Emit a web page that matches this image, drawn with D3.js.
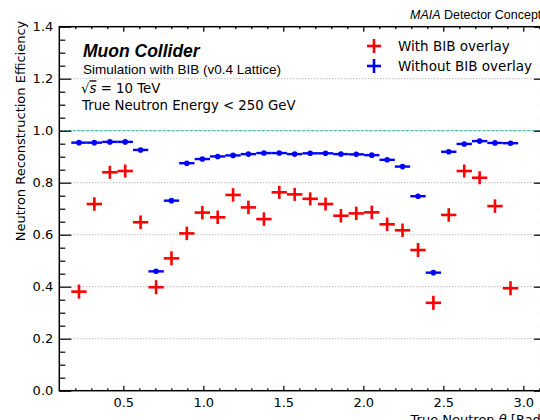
<!DOCTYPE html>
<html>
<head>
<meta charset="utf-8">
<script src="https://cdn.jsdelivr.net/npm/d3@7"></script>
<style>
  html, body { margin: 0; padding: 0; background: #fff; }
  svg { display: block; }
</style>
</head>
<body>
<svg id="chart" width="540" height="420"></svg>
<script>
// ---- data ----
const thetaCenters = [0.223, 0.319, 0.416, 0.512, 0.608, 0.705, 0.801, 0.897, 0.994, 1.090,
  1.186, 1.282, 1.379, 1.475, 1.571, 1.668, 1.764, 1.860, 1.956, 2.053,
  2.149, 2.245, 2.342, 2.438, 2.534, 2.631, 2.727, 2.823, 2.920];
const thetaHalfWidth = 0.048;
const withBIB = [0.381, 0.718, 0.840, 0.845, 0.648, 0.398, 0.509, 0.605, 0.685, 0.667,
  0.753, 0.705, 0.660, 0.763, 0.755, 0.738, 0.718, 0.673, 0.682, 0.686,
  0.640, 0.617, 0.541, 0.338, 0.676, 0.845, 0.819, 0.710, 0.394];
const withBIBErr = [0.027, 0.026, 0.025, 0.025, 0.026, 0.027, 0.027, 0.026, 0.026, 0.026,
  0.026, 0.026, 0.026, 0.025, 0.025, 0.025, 0.025, 0.026, 0.026, 0.026,
  0.026, 0.026, 0.027, 0.027, 0.026, 0.025, 0.025, 0.026, 0.027];
const withoutBIB = [0.954, 0.954, 0.957, 0.957, 0.926, 0.459, 0.731, 0.875, 0.891, 0.901,
  0.905, 0.910, 0.914, 0.914, 0.910, 0.913, 0.913, 0.910, 0.909, 0.906,
  0.888, 0.862, 0.748, 0.454, 0.919, 0.949, 0.960, 0.953, 0.952];
const withoutBIBErr = 0.006;
const yTicks = [0.0, 0.2, 0.4, 0.6, 0.8, 1.0, 1.2, 1.4];
const xTicks = [0.5, 1.0, 1.5, 2.0, 2.5, 3.0];
const gridValues = [0.2, 0.4, 0.6, 0.8, 1.0, 1.2];
const legendLabels = ["With BIB overlay", "Without BIB overlay"];

(function () {
// ---- layout ----
const svg = d3.select("#chart");
const pLeft = 59.3, pTop = 26.7, pBottom = 390.7;
const pxPerRad = 160;
const x = d3.scaleLinear().domain([0.1, Math.PI]).range([pLeft, pLeft + pxPerRad * (Math.PI - 0.1)]);
const y = d3.scaleLinear().domain([0, 1.4]).range([pBottom, pTop]);
const pRight = x.range()[1];
const RED = "#ff0000", BLUE = "#0000ff";
const tickFont = "'DejaVu Sans', sans-serif";

// grid lines
svg.append("g").selectAll("line").data(gridValues).join("line")
  .attr("x1", pLeft).attr("x2", pRight)
  .attr("y1", d => y(d)).attr("y2", d => y(d))
  .attr("stroke", "#a0a0a0").attr("stroke-width", 1).attr("stroke-dasharray", "1,2");
// reference line at 1.0
svg.append("line")
  .attr("x1", pLeft).attr("x2", pRight).attr("y1", y(1.0)).attr("y2", y(1.0))
  .attr("stroke", "#5cbcbc").attr("stroke-width", 1.2).attr("stroke-dasharray", "3,1.5");

// axes
const xMinor = d3.range(2, 32).map(i => i / 10).filter(v => !xTicks.some(t => Math.abs(t - v) < 1e-6));
const yMinor = d3.range(1, 28).map(i => i / 20).filter(v => !yTicks.some(t => Math.abs(t - v) < 1e-6));

const gxB = svg.append("g").attr("transform", `translate(0,${pBottom})`)
  .call(d3.axisBottom(x).tickValues(xTicks).tickFormat(d3.format(".1f")).tickSizeInner(-5).tickSizeOuter(0).tickPadding(7));
const gxBm = svg.append("g").attr("transform", `translate(0,${pBottom})`)
  .call(d3.axisBottom(x).tickValues(xMinor).tickFormat("").tickSizeInner(-2.5).tickSizeOuter(0));
const gxT = svg.append("g").attr("transform", `translate(0,${pTop})`)
  .call(d3.axisTop(x).tickValues(xTicks).tickFormat("").tickSizeInner(-5).tickSizeOuter(0));
const gxTm = svg.append("g").attr("transform", `translate(0,${pTop})`)
  .call(d3.axisTop(x).tickValues(xMinor).tickFormat("").tickSizeInner(-2.5).tickSizeOuter(0));
const gyL = svg.append("g").attr("transform", `translate(${pLeft},0)`)
  .call(d3.axisLeft(y).tickValues(yTicks).tickFormat(d3.format(".1f")).tickSizeInner(-12).tickSizeOuter(0).tickPadding(6));
const gyLm = svg.append("g").attr("transform", `translate(${pLeft},0)`)
  .call(d3.axisLeft(y).tickValues(yMinor).tickFormat("").tickSizeInner(-6).tickSizeOuter(0));
const gyR = svg.append("g").attr("transform", `translate(${pRight},0)`)
  .call(d3.axisRight(y).tickValues(yTicks).tickFormat("").tickSizeInner(-12).tickSizeOuter(0));
const gyRm = svg.append("g").attr("transform", `translate(${pRight},0)`)
  .call(d3.axisRight(y).tickValues(yMinor).tickFormat("").tickSizeInner(-6).tickSizeOuter(0));
[gxB, gxBm, gxT, gxTm, gyL, gyLm, gyR, gyRm].forEach(g => {
  g.select(".domain").remove();
  g.selectAll(".tick line").attr("stroke", "#000").attr("stroke-width", 1.2);
  g.selectAll(".tick text").attr("font-family", tickFont).attr("font-size", 13).attr("fill", "#000");
});
// spines
svg.append("rect").attr("x", pLeft).attr("y", pTop).attr("width", pRight - pLeft).attr("height", pBottom - pTop)
  .attr("fill", "none").attr("stroke", "#000").attr("stroke-width", 1.5);

// data: without BIB (blue)
const gBlue = svg.append("g");
thetaCenters.forEach((t, i) => {
  gBlue.append("line").attr("x1", x(t - thetaHalfWidth)).attr("x2", x(t + thetaHalfWidth))
    .attr("y1", y(withoutBIB[i])).attr("y2", y(withoutBIB[i]))
    .attr("stroke", BLUE).attr("stroke-width", 2.4);
  gBlue.append("line").attr("x1", x(t)).attr("x2", x(t))
    .attr("y1", y(withoutBIB[i] - withoutBIBErr)).attr("y2", y(withoutBIB[i] + withoutBIBErr))
    .attr("stroke", BLUE).attr("stroke-width", 2.4);
  gBlue.append("circle").attr("cx", x(t)).attr("cy", y(withoutBIB[i])).attr("r", 2.8).attr("fill", BLUE);
});
// data: with BIB (red)
const gRed = svg.append("g");
thetaCenters.forEach((t, i) => {
  gRed.append("line").attr("x1", x(t - thetaHalfWidth)).attr("x2", x(t + thetaHalfWidth))
    .attr("y1", y(withBIB[i])).attr("y2", y(withBIB[i]))
    .attr("stroke", RED).attr("stroke-width", 2.6);
  gRed.append("line").attr("x1", x(t)).attr("x2", x(t))
    .attr("y1", y(withBIB[i] - withBIBErr[i])).attr("y2", y(withBIB[i] + withBIBErr[i]))
    .attr("stroke", RED).attr("stroke-width", 2.6);
});

// legend
const legColors = [RED, BLUE];
legendLabels.forEach((lab, i) => {
  const cx = 374, cy = 46 + i * 20;
  svg.append("line").attr("x1", cx - 7).attr("x2", cx + 7).attr("y1", cy).attr("y2", cy)
    .attr("stroke", legColors[i]).attr("stroke-width", 2.6);
  svg.append("line").attr("x1", cx).attr("x2", cx).attr("y1", cy - 7).attr("y2", cy + 7)
    .attr("stroke", legColors[i]).attr("stroke-width", 2.6);
  svg.append("text").attr("x", 398).attr("y", cy + 5)
    .attr("font-family", tickFont).attr("font-size", 13.5).attr("fill", "#000").text(lab);
});

// annotations
svg.append("text").attr("x", 83).attr("y", 56.7)
  .attr("font-family", "'Liberation Sans', Arial, sans-serif").attr("font-size", 17.5)
  .attr("font-weight", "bold").attr("font-style", "italic").text("Muon Collider");
svg.append("text").attr("x", 83).attr("y", 74.3)
  .attr("font-family", "'Liberation Sans', Arial, sans-serif").attr("font-size", 13.5)
  .text("Simulation with BIB (v0.4 Lattice)");
const sq = svg.append("text").attr("x", 81).attr("y", 93.3)
  .attr("font-family", tickFont).attr("font-size", 13.3);
sq.append("tspan").text("\u221A");
sq.append("tspan").attr("font-style", "italic").style("text-decoration", "overline").text("s");
sq.append("tspan").text(" = 10 TeV");
svg.append("text").attr("x", 82).attr("y", 110)
  .attr("font-family", tickFont).attr("font-size", 13.3)
  .text("True Neutron Energy < 250 GeV");

const maia = svg.append("text").attr("x", 410).attr("y", 19)
  .attr("font-family", "'Liberation Sans', Arial, sans-serif").attr("font-size", 12.5);
maia.append("tspan").attr("font-style", "italic").text("MAIA");
maia.append("tspan").text(" Detector Concept");

// axis labels
svg.append("text").attr("transform", `translate(24.5,${pTop - 6}) rotate(-90)`)
  .attr("text-anchor", "end").attr("font-family", tickFont).attr("font-size", 13)
  .text("Neutron Reconstruction Efficiency");
const xl = svg.append("text").attr("x", pRight).attr("y", 424)
  .attr("text-anchor", "end").attr("font-family", tickFont).attr("font-size", 13);
xl.append("tspan").text("True Neutron ");
xl.append("tspan").attr("font-style", "italic").text("\u03B8");
xl.append("tspan").text(" [Rad]");
})();
</script>
</body>
</html>
